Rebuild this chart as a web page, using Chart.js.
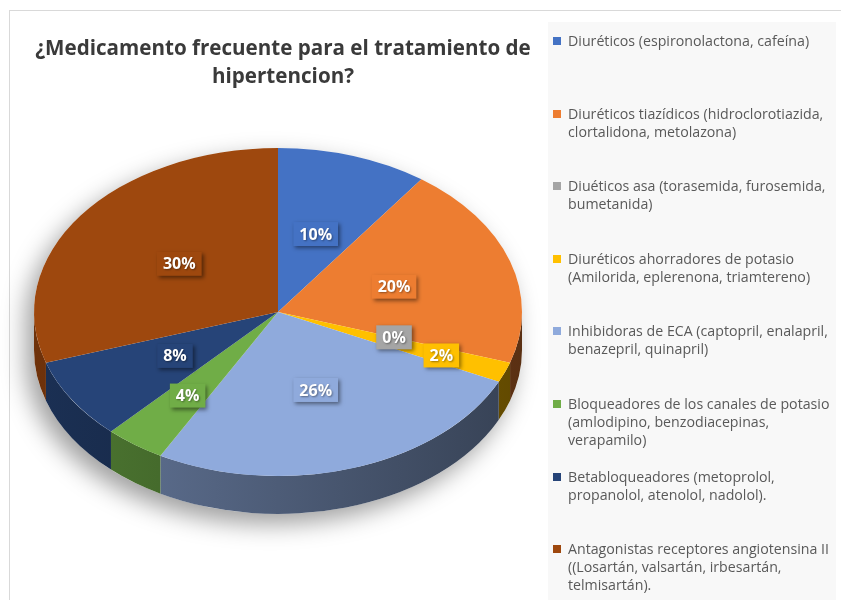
<!DOCTYPE html>
<html>
<head>
<meta charset="utf-8">
<script src="https://cdn.jsdelivr.net/npm/chart.js@4.4.1/dist/chart.umd.min.js"></script>
<style>
  body { margin: 0; background: #fff; }
  #wrap { position: relative; width: 841px; height: 600px; overflow: hidden; background: #fff; font-family: "Open Sans", sans-serif; }
  #frame { position: absolute; left: 9px; top: 10px; width: 900px; height: 700px; border: 1px solid #d9d9d9; }
  #legendPanel { position: absolute; left: 548px; top: 22px; width: 288px; height: 578px; background: #f8f8f8; }
  #title { position: absolute; left: 20px; width: 526px; top: 33px; text-align: center; font-weight: bold; font-size: 20.6px; line-height: 28px; color: #3a3a3a; }
  .item { position: absolute; left: 553px; width: 285px; font-size: 14.2px; line-height: 18px; color: #595959; }
  .item .box { position: absolute; left: 0; top: 5px; width: 8px; height: 8px; }
  .item .txt { margin-left: 15px; white-space: nowrap; }
  #chartBox { position: absolute; left: 0; top: 0; width: 841px; height: 600px; }
</style>
</head>
<body>
<div id="wrap">
  <div id="frame"></div>
  <div id="legendPanel"></div>
  <div id="chartBox"><canvas id="pieChart"></canvas></div>
  <div id="title">¿Medicamento frecuente para el tratamiento de<br>hipertencion?</div>
  <div id="legend"></div>
</div>
<script>
// categories (one array of lines per legend entry)
var categories = [
  ['Diuréticos (espironolactona, cafeína)'],
  ['Diuréticos tiazídicos (hidroclorotiazida,', 'clortalidona, metolazona)'],
  ['Diuéticos asa (torasemida, furosemida,', 'bumetanida)'],
  ['Diuréticos ahorradores de potasio', '(Amilorida, eplerenona, triamtereno)'],
  ['Inhibidoras de ECA (captopril, enalapril,', 'benazepril, quinapril)'],
  ['Bloqueadores de los canales de potasio', '(amlodipino, benzodiacepinas,', 'verapamilo)'],
  ['Betabloqueadores (metoprolol,', 'propanolol, atenolol, nadolol).'],
  ['Antagonistas receptores angiotensina II', '((Losartán, valsartán, irbesartán,', 'telmisartán).']
];
var percentages = [10, 20, 0, 2, 26, 4, 8, 30];
var sliceColors = ['#4472C4', '#ED7D31', '#A5A5A5', '#FFC000', '#8FAADC', '#70AD47', '#264478', '#9E480E'];

// label distance from centre (fraction of radius)
var labelRadius = [0.5, 0.5, 0.5, 0.72, 0.5, 0.63, 0.5, 0.5];
var tilt = 0.672;
var depth = 38;

function shade(hex, f) {
  var n = parseInt(hex.slice(1), 16);
  var r = Math.round(((n >> 16) & 255) * f), g = Math.round(((n >> 8) & 255) * f), b = Math.round((n & 255) * f);
  return 'rgb(' + r + ',' + g + ',' + b + ')';
}

// html legend
var legendHtml = '';
categories.forEach(function (lines, i) {
  legendHtml += '<div class="item" style="top:' + (32 + i * 72.6) + 'px">' +
    '<div class="box" style="background:' + sliceColors[i] + '"></div>' +
    '<div class="txt">' + lines.join('<br>') + '</div></div>';
});
document.getElementById('legend').innerHTML = legendHtml;

var pie3d = {
  id: 'pie3d',
  beforeDatasetsDraw: function (chart) {
    var ctx = chart.ctx;
    var arcs = chart.getDatasetMeta(0).data;
    var cx = arcs[0].x, cy = arcs[0].y, r = arcs[0].outerRadius, ry = r * tilt;

    // soft shadow below the pie
    ctx.save();
    ctx.shadowColor = 'rgba(0,0,0,0.38)';
    ctx.shadowBlur = 24;
    ctx.shadowOffsetX = -8;
    ctx.shadowOffsetY = 10;
    ctx.fillStyle = '#fff';
    ctx.beginPath();
    ctx.ellipse(cx, cy, r, ry, 0, Math.PI, 0);
    ctx.ellipse(cx, cy + depth, r, ry, 0, 0, Math.PI);
    ctx.closePath();
    ctx.fill();
    ctx.restore();

    // side walls for the front half
    arcs.forEach(function (arc, i) {
      var s = Math.max(arc.startAngle, 0), e = Math.min(arc.endAngle, Math.PI);
      if (e <= s) return;
      var grad = ctx.createLinearGradient(cx - r, 0, cx + r, 0);
      grad.addColorStop(0, shade(sliceColors[i], 0.7));
      grad.addColorStop(1, shade(sliceColors[i], 0.38));
      ctx.beginPath();
      ctx.ellipse(cx, cy, r, ry, 0, s, e);
      ctx.ellipse(cx, cy + depth, r, ry, 0, e, s, true);
      ctx.closePath();
      ctx.fillStyle = grad;
      ctx.fill();
    });

    // squash the top face
    ctx.save();
    ctx.translate(cx, cy);
    ctx.scale(1, tilt);
    ctx.translate(-cx, -cy);
  },
  afterDatasetsDraw: function (chart) {
    var ctx = chart.ctx;
    ctx.restore();
    var arcs = chart.getDatasetMeta(0).data;
    var cx = arcs[0].x, cy = arcs[0].y, r = arcs[0].outerRadius;
    ctx.save();
    ctx.font = 'bold 16px "Open Sans"';
    ctx.textAlign = 'center';
    ctx.textBaseline = 'middle';
    arcs.forEach(function (arc, i) {
      var mid = (arc.startAngle + arc.endAngle) / 2;
      var f = labelRadius[i];
      var x = cx + Math.cos(mid) * r * f, y = cy + Math.sin(mid) * r * f * tilt;
      var text = percentages[i] + '%';
      var w = ctx.measureText(text).width + 12, h = 24;
      ctx.shadowColor = 'rgba(0,0,0,0.45)';
      ctx.shadowBlur = 4;
      ctx.shadowOffsetX = 2;
      ctx.shadowOffsetY = 2;
      ctx.fillStyle = sliceColors[i];
      ctx.fillRect(x - w / 2, y - h / 2, w, h);
      ctx.shadowColor = 'rgba(0,0,0,0.4)';
      ctx.shadowBlur = 2;
      ctx.shadowOffsetX = 1;
      ctx.shadowOffsetY = 1;
      ctx.fillStyle = '#fff';
      ctx.fillText(text, x, y + 1);
    });
    ctx.restore();
  }
};

var ctx1 = document.getElementById('pieChart').getContext('2d');
var myChart = new Chart(ctx1, {
  type: 'pie',
  data: {
    labels: categories,
    datasets: [{
      data: percentages,
      backgroundColor: sliceColors,
      borderWidth: 0,
      hoverOffset: 0
    }]
  },
  options: {
    responsive: true,
    maintainAspectRatio: false,
    animation: false,
    events: [],
    layout: { padding: { left: 34, right: 319, top: 68, bottom: 44 } },
    plugins: {
      legend: { display: false },
      tooltip: { enabled: false }
    }
  },
  plugins: [pie3d]
});
</script>
</body>
</html>
